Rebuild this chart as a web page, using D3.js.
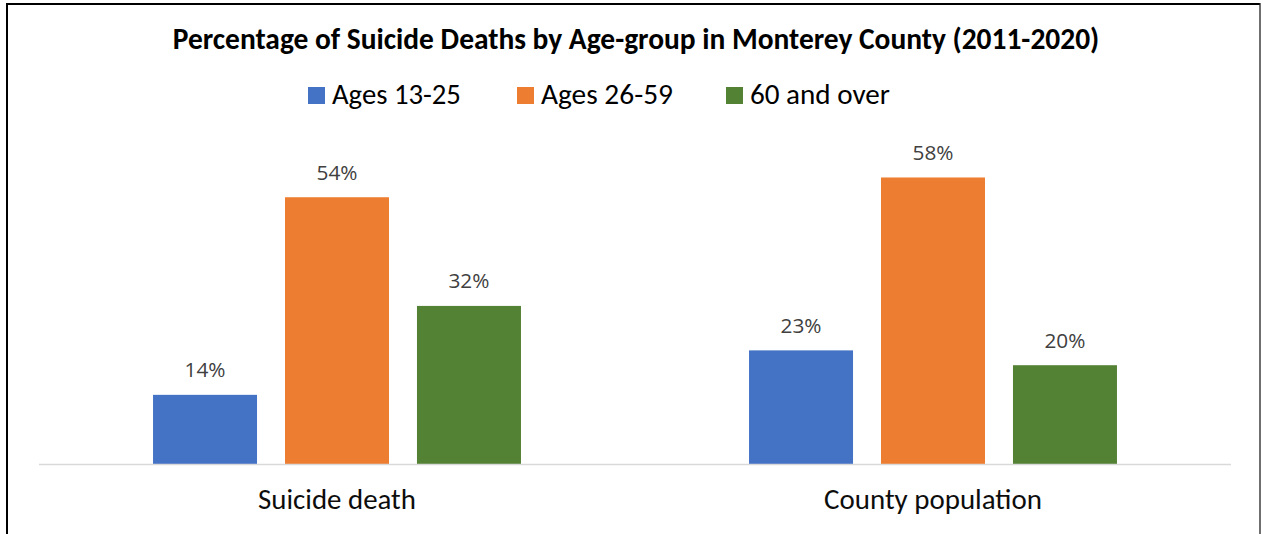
<!DOCTYPE html>
<html>
<head>
<meta charset="utf-8">
<script src="https://cdn.jsdelivr.net/npm/d3@7"></script>
<style>
  html, body { margin: 0; padding: 0; background: #fff; }
  svg { display: block; }
  text { font-family: Carlito, Calibri, Lato, "Noto Sans", sans-serif; }
  text.val { font-family: "Segoe UI", "Open Sans", "Noto Sans", sans-serif; }
</style>
</head>
<body>
<svg id="chart" width="1263" height="534"></svg>
<script>
// Chart data
const titleText = "Percentage of Suicide Deaths by Age-group in Monterey County (2011-2020)";
const categories = ["Suicide death", "County population"];
const seriesNames = ["Ages 13-25", "Ages 26-59", "60 and over"];
const seriesColors = ["#4472C4", "#ED7D31", "#548235"];
const ages13to25 = [14, 23];
const ages26to59 = [54, 58];
const ages60plus = [32, 20];
const seriesValues = [ages13to25, ages26to59, ages60plus];

const W = 1263, H = 534;
const svg = d3.select("#chart");

// Scale text so its rendered width equals a target width
function fitWidth(sel, target) {
  sel.each(function () {
    const t = d3.select(this);
    const fs = parseFloat(t.attr("font-size"));
    const w = this.getComputedTextLength();
    if (w > 0) t.attr("font-size", fs * target / w);
  });
}

// Frame
svg.append("path")
  .attr("d", `M7,${H} L7,4 L1260,4`)
  .attr("fill", "none").attr("stroke", "#000").attr("stroke-width", 2);
svg.append("line")
  .attr("x1", 1260).attr("x2", 1260).attr("y1", 3).attr("y2", H)
  .attr("stroke", "#222").attr("stroke-width", 1.3);

// Scales
const plotLeft = 39, plotRight = 1231, baseY = 464;
const x0 = d3.scaleBand().domain(categories).range([plotLeft, plotRight]).padding(0);
const x1 = d3.scaleBand().domain(seriesNames).range([0, x0.bandwidth()])
  .paddingInner(0.212).paddingOuter(0.864);
const y = d3.scaleLinear().domain([0, 70]).range([baseY, baseY - 70 * 4.94]);

// Title
svg.append("text")
  .attr("x", 636).attr("y", 49)
  .attr("text-anchor", "middle")
  .attr("font-size", 24).attr("font-weight", "bold").attr("fill", "#000")
  .text(titleText)
  .call(fitWidth, 927);

// Legend
const legendItems = [
  { sx: 308, tx: 332, w: 129 },
  { sx: 517, tx: 541, w: 132 },
  { sx: 726, tx: 750, w: 140 }
];
const legend = svg.append("g");
seriesNames.forEach((name, i) => {
  const it = legendItems[i];
  legend.append("rect")
    .attr("x", it.sx).attr("y", 87).attr("width", 17).attr("height", 17)
    .attr("fill", seriesColors[i]);
  legend.append("text")
    .attr("x", it.tx).attr("y", 104)
    .attr("font-size", 28).attr("fill", "#000")
    .text(name)
    .call(fitWidth, it.w);
});

// Bars and value labels
const groups = svg.append("g").selectAll("g")
  .data(categories)
  .join("g")
  .attr("transform", d => `translate(${x0(d)},0)`);

groups.each(function (cat, ci) {
  const g = d3.select(this);
  const rows = seriesNames.map((s, si) => ({ s, si, v: seriesValues[si][ci] }));
  g.selectAll("rect")
    .data(rows)
    .join("rect")
    .attr("x", d => x1(d.s))
    .attr("y", d => y(d.v))
    .attr("width", x1.bandwidth())
    .attr("height", d => y(0) - y(d.v))
    .attr("fill", d => seriesColors[d.si]);
  g.selectAll("text.val")
    .data(rows)
    .join("text")
    .attr("class", "val")
    .attr("x", d => x1(d.s) + x1.bandwidth() / 2)
    .attr("y", d => y(d.v) - 17.5)
    .attr("text-anchor", "middle")
    .attr("font-size", 20).attr("fill", "#404040")
    .text(d => d.v + "%")
    .call(fitWidth, 41);
});

// Category axis line
svg.append("line")
  .attr("x1", plotLeft).attr("x2", plotRight)
  .attr("y1", baseY + 0.6).attr("y2", baseY + 0.6)
  .attr("stroke", "#d9d9d9").attr("stroke-width", 1.5);

// Category labels
const catWidths = [158, 218];
svg.append("g").selectAll("text")
  .data(categories)
  .join("text")
  .attr("x", d => x0(d) + x0.bandwidth() / 2)
  .attr("y", 509)
  .attr("text-anchor", "middle")
  .attr("font-size", 28).attr("fill", "#0d0d0d")
  .text(d => d)
  .each(function (d, i) { fitWidth(d3.select(this), catWidths[i]); });
</script>
</body>
</html>
